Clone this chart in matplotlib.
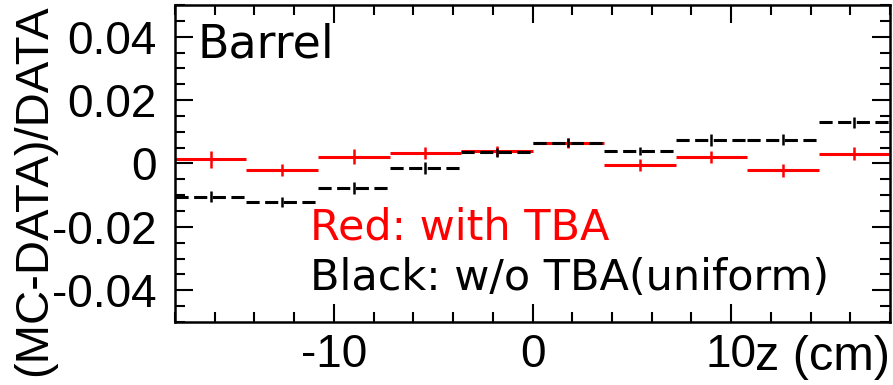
import numpy as np
import matplotlib
matplotlib.use("Agg")
import matplotlib.pyplot as plt

plt.rcParams["axes.unicode_minus"] = False

# bin edges in z (cm)
bordes = np.linspace(-18, 18, 11)

# (MC-DATA)/DATA, with TBA (red)
rojo = [0.0013, -0.0022, 0.0022, 0.0034, 0.0039, 0.0064, -0.0005, 0.0021, -0.0022, 0.0031]
rojo_err = [0.0027, 0.0019, 0.0024, 0.0019, 0.0016, 0.0016, 0.0018, 0.0018, 0.0020, 0.0021]

# (MC-DATA)/DATA, w/o TBA (black)
negro = [-0.0105, -0.0121, -0.0078, -0.0014, 0.0036, 0.0066, 0.0039, 0.0075, 0.0075, 0.0130]
negro_err = [0.0017, 0.0016, 0.0019, 0.0019, 0.0014, 0.0014, 0.0013, 0.0019, 0.0018, 0.0018]

xticks = [-10, 0, 10]
xticklabels = ["-10", "0", "10"]
yticks = [-0.04, -0.02, 0, 0.02, 0.04]
yticklabels = ["-0.04", "-0.02", "0", "0.02", "0.04"]

centros = (bordes[:-1] + bordes[1:]) / 2

fig = plt.figure(figsize=(8.93, 3.85), dpi=100)
ax = fig.add_axes([175 / 893, 63 / 385, 715 / 893, 317 / 385])

# red: with TBA
r = np.array(rojo)
re = np.array(rojo_err)
ax.hlines(r, bordes[:-1], bordes[1:], color="#ff0000", lw=2.2, zorder=2)
ax.vlines(centros, r - re, r + re, color="#ff0000", lw=1.8, zorder=2)

# black: w/o TBA, dashed
n = np.array(negro)
ne = np.array(negro_err)
ax.hlines(n, bordes[:-1], bordes[1:], color="black", lw=2.2,
          linestyles=[(0, (4.3, 1.8))], zorder=3)
ax.vlines(centros, n - ne, n + ne, color="black", lw=1.8, zorder=3)

ax.set_xlim(-18, 18)
ax.set_ylim(-0.05, 0.05)
ax.set_xticks(xticks)
ax.set_xticklabels(xticklabels)
ax.set_xticks(np.arange(-18, 19, 2), minor=True)
ax.set_yticks(yticks)
ax.set_yticklabels(yticklabels)
ax.set_yticks(np.arange(-0.05, 0.0501, 0.005), minor=True)

for s in ax.spines.values():
    s.set_linewidth(1.8)

ax.tick_params(which="both", direction="in", top=True, right=True, width=1.5)
ax.tick_params(which="major", length=13)
ax.tick_params(which="minor", length=7)
ax.tick_params(axis="x", which="major", pad=8)
ax.tick_params(axis="y", which="major", pad=13)
for lab in ax.get_xticklabels() + ax.get_yticklabels():
    lab.set_fontfamily("Liberation Sans")
    lab.set_fontsize(33)

# x title next to the "10" label
ax.text(1.0, -0.151, "z (cm)", transform=ax.transAxes, ha="right", va="baseline",
        fontsize=35, family="Liberation Sans")

# y title, cut by the left border like in the original
fig.text(34 / 893, 1 - 4 / 385, "(MC-DATA)/DATA", rotation=90, ha="center", va="top",
         fontsize=34, family="Liberation Sans")

fig.text(197 / 893, 1 - 57 / 385, "Barrel", fontsize=33, family="DejaVu Sans",
         va="baseline")
fig.text(310 / 893, 1 - 240 / 385, "Red: with TBA", color="#ff0000",
         fontsize=31, family="DejaVu Sans", va="baseline")
fig.text(310 / 893, 1 - 290 / 385, "Black: w/o TBA(uniform)", color="black",
         fontsize=31, family="DejaVu Sans", va="baseline")

fig.savefig("out.png", dpi=100)
